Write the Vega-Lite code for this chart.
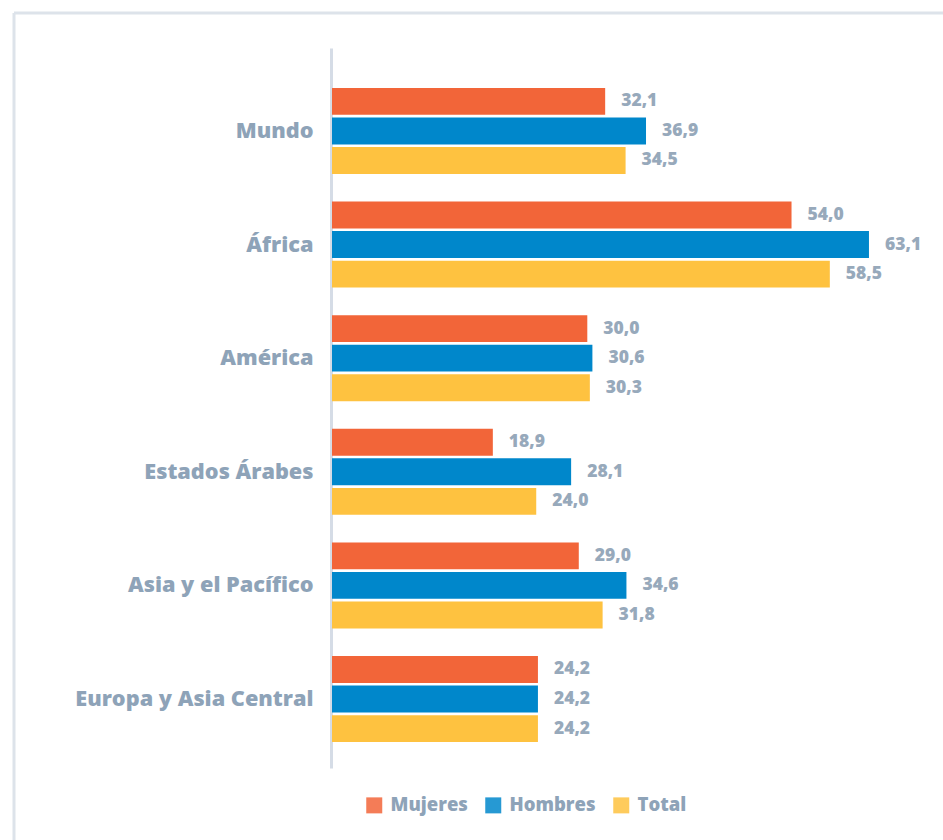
{
  "$schema": "https://vega.github.io/schema/vega-lite/v6.json",
  "width": 929,
  "height": 827,
  "autosize": {"type": "none"},
  "padding": {"left": 14, "top": 13, "right": 0, "bottom": 0},
  "background": "white",
  "config": {
    "locale": {"number": {"decimal": ",", "thousands": ".", "grouping": [3], "currency": ["", " €"]}},
    "view": {"stroke": "#dde3ea", "strokeWidth": 3, "strokeDash": [929, 1756, 827, 0]},
    "font": "Open Sans"
  },
  "data": {
    "values": [
      {"region": "Mundo", "serie": "Mujeres", "value": 32.1},
      {"region": "Mundo", "serie": "Hombres", "value": 36.9},
      {"region": "Mundo", "serie": "Total", "value": 34.5},
      {"region": "África", "serie": "Mujeres", "value": 54.0},
      {"region": "África", "serie": "Hombres", "value": 63.1},
      {"region": "África", "serie": "Total", "value": 58.5},
      {"region": "América", "serie": "Mujeres", "value": 30.0},
      {"region": "América", "serie": "Hombres", "value": 30.6},
      {"region": "América", "serie": "Total", "value": 30.3},
      {"region": "Estados Árabes", "serie": "Mujeres", "value": 18.9},
      {"region": "Estados Árabes", "serie": "Hombres", "value": 28.1},
      {"region": "Estados Árabes", "serie": "Total", "value": 24.0},
      {"region": "Asia y el Pacífico", "serie": "Mujeres", "value": 29.0},
      {"region": "Asia y el Pacífico", "serie": "Hombres", "value": 34.6},
      {"region": "Asia y el Pacífico", "serie": "Total", "value": 31.8},
      {"region": "Europa y Asia Central", "serie": "Mujeres", "value": 24.2},
      {"region": "Europa y Asia Central", "serie": "Hombres", "value": 24.2},
      {"region": "Europa y Asia Central", "serie": "Total", "value": 24.2}
    ]
  },
  "encoding": {
    "y": {
      "field": "region",
      "type": "nominal",
      "sort": ["Mundo", "África", "América", "Estados Árabes", "Asia y el Pacífico", "Europa y Asia Central"],
      "scale": {"range": [35, 755], "paddingInner": 0.243, "paddingOuter": 0.29, "align": 0.606},
      "axis": {
        "title": null,
        "offset": -317,
        "ticks": false,
        "domainColor": "#d5dce6",
        "domainWidth": 3,
        "labelFont": "Open Sans",
        "labelFontSize": 21.7,
        "labelFontWeight": 800,
        "labelColor": "#8ea3b8",
        "labelPadding": 18,
        "labelLimit": 400
      }
    },
    "yOffset": {
      "field": "serie",
      "type": "nominal",
      "sort": ["Mujeres", "Hombres", "Total"],
      "scale": {"paddingInner": 0.09}
    },
    "x": {
      "field": "value",
      "type": "quantitative",
      "stack": null,
      "scale": {"domain": [-37.37, 71.8], "nice": false, "zero": false},
      "axis": null
    }
  },
  "layer": [
    {
      "mark": {"type": "bar"},
      "encoding": {
        "x2": {"datum": 0},
        "color": {
          "field": "serie",
          "type": "nominal",
          "sort": ["Mujeres", "Hombres", "Total"],
          "scale": {"domain": ["Mujeres", "Hombres", "Total"], "range": ["#f26539", "#0087cb", "#fec240"]},
          "legend": {
            "title": null,
            "orient": "none",
            "direction": "horizontal",
            "legendX": 351,
            "legendY": 783,
            "symbolType": "square",
            "symbolSize": 256,
            "symbolOpacity": 0.85,
            "symbolStrokeWidth": 0,
            "labelFont": "Open Sans",
            "labelFontSize": 18.5,
            "labelFontWeight": 800,
            "labelColor": "#8ea3b8",
            "labelOffset": 7,
            "columnPadding": 16
          }
        }
      }
    },
    {
      "mark": {"type": "text", "align": "left", "baseline": "middle", "dx": 16, "font": "Open Sans", "fontWeight": 800, "fontSize": 17.5, "color": "#97a9bb"},
      "encoding": {
        "text": {"field": "value", "type": "quantitative", "format": ".1f"}
      }
    }
  ]
}
